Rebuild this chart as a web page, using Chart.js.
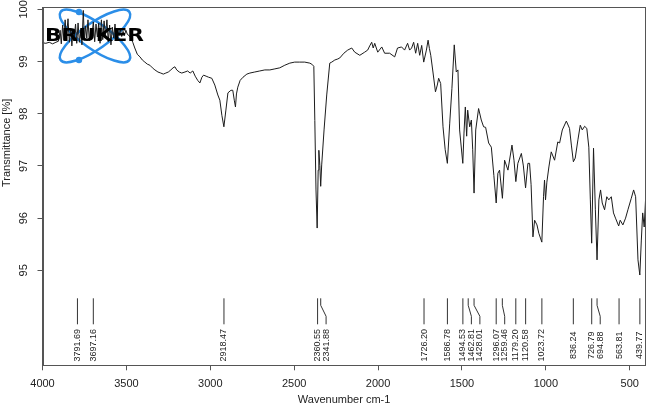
<!DOCTYPE html>
<html>
<head>
<meta charset="utf-8">
<script src="https://cdn.jsdelivr.net/npm/chart.js@4.4.1/dist/chart.umd.min.js"></script>
<style>
  html, body { margin: 0; padding: 0; background: #fff; }
  canvas { display: block; }
</style>
</head>
<body>
<canvas id="ir" width="648" height="407"></canvas>
<script>
// spectrum, wavenumber (cm-1) and transmittance (%)
const wavenumbers = [
  // 4000 - 3475
  4000, 3980, 3960, 3940, 3920, 3905, 3895, 3888, 3880, 3872,
  3865, 3858, 3848, 3840, 3832, 3825, 3818, 3810, 3803, 3796,
  3788, 3780, 3772, 3765, 3757, 3750, 3743, 3736, 3729, 3721,
  3713, 3705, 3697, 3689, 3681, 3673, 3665, 3657, 3649, 3641,
  3633, 3625, 3616, 3608, 3600, 3592, 3584, 3576, 3568, 3560,
  3552, 3544, 3536, 3528, 3520, 3512, 3503, 3494, 3485, 3475,
  // 3462 - 2395
  3462, 3450, 3435, 3419, 3405, 3390, 3375, 3360, 3345, 3330,
  3312, 3295, 3280, 3265, 3250, 3235, 3222, 3211, 3200, 3185,
  3170, 3151, 3135, 3120, 3104, 3090, 3075, 3062, 3050, 3040,
  3025, 3010, 2991, 2973, 2955, 2943, 2931, 2919, 2907, 2895,
  2877, 2866, 2857, 2850, 2844, 2836, 2822, 2805, 2782, 2764,
  2735, 2705, 2675, 2645, 2615, 2586, 2556, 2526, 2497, 2467,
  2437, 2407, 2395,
  // 2383 - 1740
  2383, 2377, 2370, 2363, 2357, 2353, 2347, 2342, 2336, 2322,
  2306, 2288, 2276, 2258, 2240, 2228, 2204, 2181, 2157, 2139,
  2109, 2080, 2062, 2050, 2038, 2029, 2020, 2002, 1978, 1961,
  1931, 1901, 1884, 1860, 1842, 1824, 1812, 1800, 1788, 1776,
  1764, 1752, 1740,
  // 1728 - 1002
  1728, 1712, 1702, 1694, 1686, 1673, 1658, 1647, 1639, 1627,
  1613, 1600, 1587, 1573, 1560, 1546, 1534, 1524, 1514, 1495,
  1488, 1480, 1472, 1466, 1454, 1444, 1436, 1428, 1418, 1401,
  1385, 1371, 1359, 1341, 1325, 1310, 1296, 1286, 1276, 1259,
  1246, 1226, 1202, 1190, 1179, 1167, 1146, 1134, 1121, 1107,
  1097, 1088, 1077, 1067, 1053, 1042, 1024, 1014, 1008, 1002,
  // 994 - 406
  994, 982, 968, 948, 929, 918, 902, 878, 859, 848,
  836, 825, 809, 795, 783, 769, 756, 744, 735, 727,
  716, 705, 695, 684, 674, 664, 650, 637, 625, 610,
  597, 585, 566, 557, 541, 525, 511, 491, 477, 465,
  451, 440, 431, 423, 414, 406
];
const transmittance = [
  // 4000 - 3475
  99.36, 99.35, 99.37, 99.34, 99.37, 99.39, 99.60, 99.34, 99.70, 99.41,
  99.80, 99.45, 99.82, 99.37, 99.64, 99.30, 99.60, 99.49, 99.72, 99.35,
  99.74, 99.37, 99.60, 99.32, 99.98, 99.41, 99.68, 99.45, 99.80, 99.40,
  99.64, 99.50, 99.76, 99.38, 99.72, 99.47, 99.74, 99.35, 99.80, 99.42,
  99.78, 99.50, 99.80, 99.38, 99.70, 99.32, 99.66, 99.45, 99.72, 99.44,
  99.60, 99.50, 99.62, 99.48, 99.58, 99.50, 99.60, 99.52, 99.50, 99.46,
  // 3462 - 2395
  99.37, 99.26, 99.14, 99.09, 99.03, 98.99, 98.95, 98.93, 98.88, 98.84,
  98.80, 98.78, 98.76, 98.78, 98.80, 98.84, 98.88, 98.90, 98.84, 98.80,
  98.78, 98.80, 98.82, 98.78, 98.82, 98.72, 98.64, 98.59, 98.70, 98.74,
  98.72, 98.70, 98.68, 98.55, 98.36, 98.26, 97.97, 97.75, 98.07, 98.40,
  98.45, 98.45, 98.26, 98.13, 98.38, 98.51, 98.64, 98.70, 98.76, 98.78,
  98.80, 98.82, 98.84, 98.84, 98.86, 98.88, 98.93, 98.97, 98.99, 98.99,
  98.99, 98.97, 98.95,
  // 2383 - 1740
  98.91, 97.87, 96.54, 95.81, 96.92, 97.30, 97.01, 96.61, 97.02, 97.69,
  98.36, 98.97, 98.99, 99.03, 99.05, 99.07, 99.16, 99.22, 99.26, 99.18,
  99.12, 99.18, 99.22, 99.30, 99.37, 99.26, 99.35, 99.18, 99.28, 99.16,
  99.16, 99.09, 99.26, 99.28, 99.22, 99.35, 99.22, 99.26, 99.37, 99.16,
  99.35, 99.12, 99.31,
  // 1728 - 1002
  98.99, 99.22, 99.41, 99.25, 99.12, 98.80, 98.42, 98.55, 98.68, 98.58,
  97.75, 97.31, 97.05, 97.82, 98.48, 99.32, 98.80, 98.84, 97.69, 97.05,
  97.63, 98.13, 97.57, 98.07, 97.75, 97.88, 97.31, 96.48, 97.69, 98.10,
  97.88, 97.75, 97.74, 97.44, 97.36, 96.82, 96.29, 96.86, 96.92, 96.38,
  97.11, 96.92, 97.40, 97.11, 96.70, 97.05, 97.24, 97.00, 96.58, 97.05,
  97.05, 96.64, 95.64, 95.96, 95.87, 95.71, 95.54, 96.41, 96.73, 96.35,
  // 994 - 406
  96.69, 96.98, 97.27, 97.11, 97.46, 97.44, 97.69, 97.86, 97.72, 97.40,
  97.08, 97.15, 97.50, 97.78, 97.69, 97.76, 97.72, 97.36, 96.35, 95.52,
  97.34, 96.16, 95.20, 96.35, 96.54, 96.29, 96.16, 96.41, 96.35, 96.41,
  96.10, 96.00, 95.85, 95.96, 95.87, 96.00, 96.16, 96.38, 96.54, 96.41,
  95.20, 94.91, 95.58, 96.10, 95.83, 96.35
];

// picked peaks, as printed under the curve
const peakPositions = [
  3791.69, 3697.16, 2918.47, 2360.55, 2341.88, 1726.20, 1586.78, 1494.53,
  1462.81, 1428.01, 1296.07, 1259.46, 1179.20, 1120.58, 1023.72, 836.24,
  726.79, 694.88, 563.81, 439.77
];

const xTicks = [4000, 3500, 3000, 2500, 2000, 1500, 1000, 500];
const yTicks = [95, 96, 97, 98, 99, 100];

const AXIS = '#555';
const TEXT = '#222';
const FONT = 'Liberation Sans';
const LOGO_BLUE = '#2b8ee8';

function drawLogo(ctx) {
  ctx.save();
  ctx.strokeStyle = LOGO_BLUE;
  ctx.lineWidth = 2.5;
  [0.61, -0.61].forEach(r => {
    ctx.beginPath();
    ctx.ellipse(95, 36, 42, 13, r, 0, Math.PI * 2);
    ctx.stroke();
  });
  ctx.fillStyle = LOGO_BLUE;
  [[79, 12], [79, 60]].forEach(([cx, cy]) => {
    ctx.beginPath();
    ctx.arc(cx, cy, 3.2, 0, Math.PI * 2);
    ctx.fill();
  });
  ctx.restore();
}

function drawLogoText(ctx) {
  ctx.save();
  ctx.font = 'bold 17px "DejaVu Sans"';
  ctx.textAlign = 'center';
  ctx.textBaseline = 'middle';
  const w = ctx.measureText('BRUKER').width;
  ctx.translate(94.5, 36.5);
  ctx.scale(99 / w, 1);
  ctx.fillStyle = '#000';
  ctx.fillText('BRUKER', 0, 0);
  ctx.restore();
}

const decorations = {
  id: 'decorations',
  beforeDatasetsDraw(chart) {
    drawLogo(chart.ctx);
  },
  afterDatasetsDraw(chart) {
    drawLogoText(chart.ctx);
  },
  afterDraw(chart) {
    const { ctx, chartArea: a, scales: { x, y } } = chart;
    ctx.save();

    // box around the plot
    ctx.strokeStyle = AXIS;
    ctx.lineWidth = 1;
    ctx.strokeRect(Math.round(a.left) + 0.5, Math.round(a.top) + 0.5,
      Math.round(a.right - a.left) - 1, Math.round(a.bottom - a.top));

    // y tick labels, turned like the original
    ctx.fillStyle = TEXT;
    ctx.font = '11px "' + FONT + '"';
    ctx.textAlign = 'center';
    ctx.textBaseline = 'middle';
    yTicks.forEach(v => {
      ctx.save();
      ctx.translate(a.left - 19, y.getPixelForValue(v));
      ctx.rotate(-Math.PI / 2);
      ctx.fillText(String(v), 0, 0);
      ctx.restore();
    });

    // y title, centred on the labelled range
    const mid = (y.getPixelForValue(yTicks[0]) + y.getPixelForValue(yTicks[yTicks.length - 1])) / 2;
    ctx.save();
    ctx.translate(7, mid + 3);
    ctx.rotate(-Math.PI / 2);
    ctx.fillText('Transmittance [%]', 0, 0);
    ctx.restore();

    // peak markers: spread labels so they don't overlap
    const gap = 8.5;
    let prev = -Infinity;
    const labelX = peakPositions.map(p => {
      const lx = Math.max(x.getPixelForValue(p), prev + gap);
      prev = lx;
      return lx;
    });
    const b = a.bottom;
    ctx.strokeStyle = '#333';
    ctx.lineWidth = 1;
    ctx.font = '9px "' + FONT + '"';
    peakPositions.forEach((p, i) => {
      const px = x.getPixelForValue(p);
      const lx = labelX[i];
      ctx.beginPath();
      ctx.moveTo(px, b - 67);
      if (Math.abs(lx - px) > 0.5) {
        ctx.lineTo(px, b - 60);
        ctx.lineTo(lx, b - 49);
      }
      ctx.lineTo(lx, b - 41);
      ctx.stroke();
      ctx.save();
      ctx.translate(lx, b - 20);
      ctx.rotate(-Math.PI / 2);
      ctx.fillText(p.toFixed(2), 0, 0);
      ctx.restore();
    });

    ctx.restore();
  }
};

new Chart(document.getElementById('ir'), {
  type: 'scatter',
  data: {
    datasets: [{
      data: wavenumbers.map((w, i) => ({ x: w, y: transmittance[i] })),
      showLine: true,
      borderColor: '#1c1c1c',
      borderWidth: 1,
      pointRadius: 0,
      tension: 0
    }]
  },
  options: {
    responsive: false,
    animation: false,
    devicePixelRatio: 1,
    layout: { padding: { top: 7.3, right: 2.3, left: 0, bottom: 0 } },
    plugins: { legend: { display: false }, tooltip: { enabled: false } },
    scales: {
      x: {
        type: 'linear',
        reverse: true,
        min: 405,
        max: 4000,
        afterBuildTicks: s => { s.ticks = xTicks.map(v => ({ value: v })); },
        afterFit: s => { s.height = 41.7; },
        grid: { drawOnChartArea: false, tickLength: 5, color: AXIS },
        border: { color: AXIS },
        ticks: {
          padding: 7,
          color: TEXT,
          font: { family: FONT, size: 11 },
          callback: v => String(v)
        },
        title: {
          display: true,
          text: 'Wavenumber cm-1',
          color: TEXT,
          padding: 0,
          font: { family: FONT, size: 11 }
        }
      },
      y: {
        type: 'linear',
        min: 93.18,
        max: 100.04,
        afterBuildTicks: s => { s.ticks = yTicks.map(v => ({ value: v })); },
        afterFit: s => { s.width = 42.5; },
        grid: { drawOnChartArea: false, tickLength: 5, color: AXIS },
        border: { color: AXIS },
        ticks: { display: false }
      }
    }
  },
  plugins: [decorations]
});
</script>
</body>
</html>
